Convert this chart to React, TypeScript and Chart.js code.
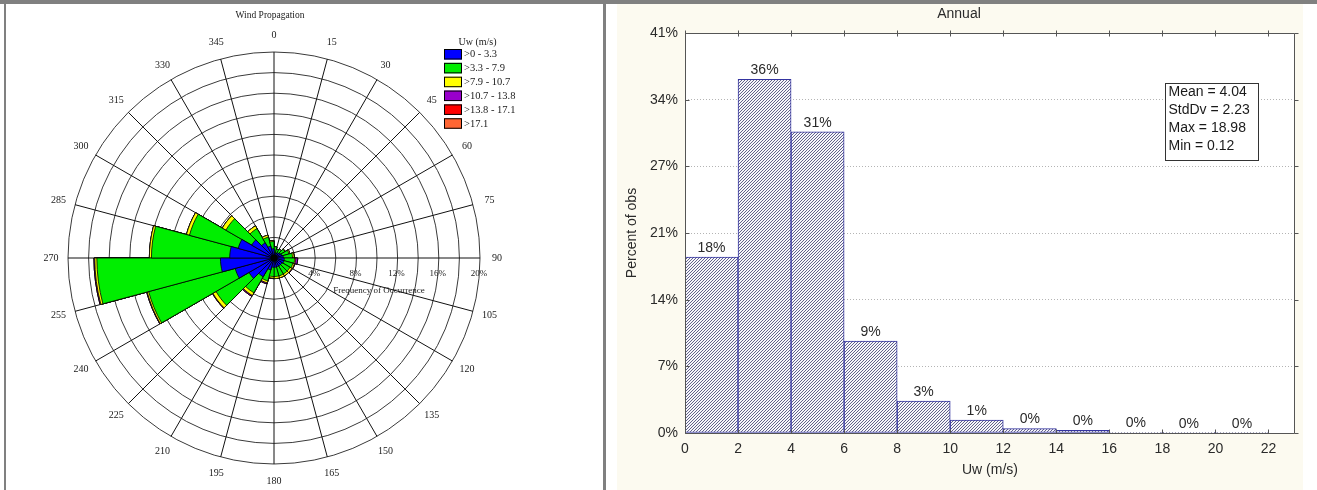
import React, { useEffect, useRef } from "react";
import { Chart, registerables } from "chart.js";

Chart.register(...registerables);

const SERIF = '"Liberation Serif", "Times New Roman", serif';
const SANS = '"Liberation Sans", Arial, sans-serif';

// ---------- Wind rose ----------
// Compass sectors: sector i covers [15i, 15i + 15) degrees
const DIRECTIONS = [
  "0", "15", "30", "45", "60", "75", "90", "105", "120", "135", "150", "165",
  "180", "195", "210", "225", "240", "255", "270", "285", "300", "315", "330", "345",
];

const SPEED_CLASSES = [">0 - 3.3", ">3.3 - 7.9", ">7.9 - 10.7", ">10.7 - 13.8", ">13.8 - 17.1", ">17.1"];
const CLASS_COLORS = ["#0000ff", "#00ee00", "#ffff00", "#9900cc", "#ff0000", "#ff6633"];

// Frequency of occurrence (%) per sector for each wind speed class
const FREQ_0_3_3 = [0.5, 0.5, 0.6, 0.7, 0.8, 0.9, 1.0, 1.0, 0.9, 0.9, 0.9, 0.9, 0.9, 1.2, 2.1, 2.8, 3.9, 5.2, 4.3, 3.6, 2.5, 1.7, 1.2, 0.9];
const FREQ_3_3_7_9 = [0.6, 0.4, 0.4, 0.5, 0.7, 0.9, 1.0, 0.9, 0.9, 0.9, 0.9, 0.9, 0.9, 1.1, 1.8, 3.7, 8.7, 12.0, 7.6, 4.9, 2.9, 1.6, 0.9, 0.7];
const FREQ_7_9_10_7 = [0, 0, 0, 0.05, 0.1, 0.15, 0.1, 0.15, 0.2, 0.2, 0.2, 0.2, 0.15, 0.2, 0.3, 0.35, 0.15, 0.2, 0.2, 0.3, 0.4, 0.3, 0.2, 0.1];
const FREQ_10_7_13_8 = [0, 0, 0, 0, 0, 0, 0.2, 0.05, 0.05, 0, 0, 0, 0.05, 0.1, 0.1, 0.05, 0.05, 0.08, 0, 0, 0, 0, 0, 0];
const FREQ_13_8_17_1 = [0, 0, 0, 0, 0, 0, 0, 0, 0, 0, 0, 0, 0, 0, 0, 0, 0, 0, 0, 0, 0, 0, 0, 0];
const FREQ_ABOVE_17_1 = [0, 0, 0, 0, 0, 0, 0, 0, 0, 0, 0, 0, 0, 0, 0, 0, 0, 0, 0, 0, 0, 0, 0, 0];

const RING_LABELS = [4, 8, 12, 16, 20];

// ---------- Histogram ----------
const SPEED_BINS = [1, 3, 5, 7, 9, 11, 13, 15, 17, 19, 21]; // bin centres, m/s (2 m/s wide)
const PERCENT_OBS = [18.04, 36.25, 30.88, 9.43, 3.28, 1.33, 0.45, 0.28, 0.04, 0.02, 0.01];
const STATS = ["Mean = 4.04", "StdDv = 2.23", "Max = 18.98", "Min = 0.12"];
const Y_MAX = 41;
const Y_STEP = Y_MAX / 6;

function WindRose() {
  const ref = useRef<HTMLCanvasElement>(null);

  useEffect(() => {
    const classes = [FREQ_0_3_3, FREQ_3_3_7_9, FREQ_7_9_10_7, FREQ_10_7_13_8, FREQ_13_8_17_1, FREQ_ABOVE_17_1];
    // stacked rose: each class is drawn as the running total, innermost class on top
    const cumulative = classes.map((_, k) =>
      DIRECTIONS.map((__, i) => {
        let s = 0;
        for (let j = 0; j <= k; j++) s += classes[j][i];
        return Math.round(s * 1000) / 1000;
      })
    );

    const overlay = {
      id: "roseOverlay",
      afterDraw(chart: any) {
        const { ctx } = chart;
        const r = chart.scales.r;
        const cx = r.xCenter;
        const cy = r.yCenter;
        ctx.save();

        ctx.fillStyle = "#000";
        ctx.beginPath();
        ctx.arc(cx, cy, 3.5, 0, Math.PI * 2);
        ctx.fill();

        ctx.fillStyle = "#1a1a1a";
        ctx.textAlign = "center";
        ctx.textBaseline = "middle";
        ctx.font = `10px ${SERIF}`;
        DIRECTIONS.forEach((lab, i) => {
          const p = r.getPointPosition(i, r.drawingArea + 17);
          ctx.fillText(lab, p.x, p.y);
        });

        ctx.font = `9px ${SERIF}`;
        RING_LABELS.forEach((v) => {
          ctx.fillText(v + "%", cx + r.getDistanceFromCenterForValue(v) - 1, cy + 16);
        });
        ctx.fillText("Frequency of Occurrence", cx + r.getDistanceFromCenterForValue(10.2), cy + 33);

        ctx.font = `9.5px ${SERIF}`;
        ctx.fillText("Wind Propagation", cx - 4, 11);

        // speed class key
        const kx = cx + 170;
        const ky = 45;
        ctx.font = `10px ${SERIF}`;
        ctx.fillText("Uw (m/s)", kx + 33.5, ky - 6.5);
        ctx.textAlign = "left";
        ctx.font = `10.5px ${SERIF}`;
        SPEED_CLASSES.forEach((lab, k) => {
          const y = ky + k * 13.85;
          ctx.fillStyle = CLASS_COLORS[k];
          ctx.fillRect(kx, y, 18, 10.5);
          ctx.strokeStyle = "#000";
          ctx.lineWidth = 1;
          ctx.strokeRect(kx + 0.5, y + 0.5, 17, 9.5);
          ctx.fillStyle = "#1a1a1a";
          ctx.fillText(lab, kx + 20, y + 5.5);
        });

        ctx.restore();
      },
    };

    const chart = new Chart(ref.current as HTMLCanvasElement, {
      type: "polarArea",
      data: {
        labels: DIRECTIONS,
        datasets: cumulative.map((data, k) => ({
          label: SPEED_CLASSES[k],
          data,
          backgroundColor: CLASS_COLORS[k],
          borderColor: "#000",
          borderWidth: 0.8,
        })),
      },
      options: {
        responsive: false,
        animation: false,
        layout: { padding: { left: 62, right: 123, top: 48, bottom: 26 } },
        plugins: {
          legend: { display: false },
          tooltip: { enabled: false },
          title: { display: false },
        },
        scales: {
          r: {
            min: 0,
            max: 20,
            ticks: { display: false, stepSize: 2 },
            grid: { circular: true, color: "#3a3a3a", lineWidth: 1 },
            angleLines: { display: true, color: "#111", lineWidth: 1 },
            pointLabels: { display: false },
          },
        },
      } as any,
      plugins: [overlay],
    });

    return () => chart.destroy();
  }, []);

  return <canvas ref={ref} width={597} height={486} style={{ display: "block", width: 597, height: 486 }} />;
}

function Histogram() {
  const ref = useRef<HTMLCanvasElement>(null);

  useEffect(() => {
    const canvas = ref.current as HTMLCanvasElement;
    const c2d = canvas.getContext("2d") as CanvasRenderingContext2D;

    // diagonal hatch fill for the bars
    const tile = document.createElement("canvas");
    tile.width = 3;
    tile.height = 3;
    const t = tile.getContext("2d") as CanvasRenderingContext2D;
    for (let x = 0; x < 3; x++) {
      for (let y = 0; y < 3; y++) {
        t.fillStyle = (x + y) % 3 === 2 ? "#62628a" : "#f6f6fb";
        t.fillRect(x, y, 1, 1);
      }
    }
    const hatch = c2d.createPattern(tile, "repeat");

    const panel = {
      id: "histPanel",
      beforeDraw(chart: any) {
        const { ctx, chartArea: a } = chart;
        ctx.save();
        ctx.fillStyle = "#fcfaf0";
        ctx.fillRect(0, 0, chart.width, chart.height);
        ctx.fillStyle = "#ffffff";
        ctx.fillRect(a.left, a.top, a.right - a.left, a.bottom - a.top);
        ctx.restore();
      },
      afterDatasetsDraw(chart: any) {
        const { ctx } = chart;
        const meta = chart.getDatasetMeta(0);
        ctx.save();
        ctx.fillStyle = "#2a2a2a";
        ctx.font = `14px ${SANS}`;
        ctx.textAlign = "center";
        ctx.textBaseline = "middle";
        meta.data.forEach((el: any, i: number) => {
          ctx.fillText(Math.round(PERCENT_OBS[i]) + "%", el.x, el.y - 9);
        });
        ctx.restore();
      },
      afterDraw(chart: any) {
        const { ctx, chartArea: a } = chart;
        const xs = chart.scales.x;
        const ys = chart.scales.y;
        const L = Math.round(a.left) + 0.5;
        const R = Math.round(a.right) - 0.5;
        const T = Math.round(a.top) + 0.5;
        const B = Math.round(a.bottom) + 0.5;
        ctx.save();
        ctx.setLineDash([]);
        ctx.strokeStyle = "#555";
        ctx.lineWidth = 1;
        ctx.beginPath();
        ctx.rect(L, T, R - L, B - T);
        ys.ticks.forEach((tk: any) => {
          const y = Math.round(ys.getPixelForValue(tk.value)) + 0.5;
          ctx.moveTo(L, y);
          ctx.lineTo(L + 4, y);
          ctx.moveTo(R, y);
          ctx.lineTo(R + 4, y);
        });
        xs.ticks.forEach((tk: any) => {
          const x = Math.round(xs.getPixelForValue(tk.value)) + 0.5;
          ctx.moveTo(x, B);
          ctx.lineTo(x, B - 4);
          ctx.moveTo(x, T - 3);
          ctx.lineTo(x, T + 3);
        });
        ctx.stroke();

        ctx.fillStyle = "#2a2a2a";
        ctx.textAlign = "center";
        ctx.textBaseline = "middle";
        ctx.font = `14px ${SANS}`;
        ctx.fillText("Annual", chart.width / 2 - 1, 10);
        ctx.fillText("Uw (m/s)", (a.left + a.right) / 2, 466);
        ctx.save();
        ctx.translate(15, (a.top + a.bottom) / 2);
        ctx.rotate(-Math.PI / 2);
        ctx.fillText("Percent of obs", 0, 0);
        ctx.restore();

        // summary statistics box
        const bx = a.right - 130;
        const by = a.top + 50;
        ctx.fillStyle = "#ffffff";
        ctx.fillRect(bx, by, 93, 77);
        ctx.strokeStyle = "#333";
        ctx.strokeRect(Math.round(bx) + 0.5, Math.round(by) + 0.5, 93, 77);
        ctx.fillStyle = "#1a1a1a";
        ctx.textAlign = "left";
        STATS.forEach((s, i) => ctx.fillText(s, bx + 3.5, by + 9 + i * 18.2));
        ctx.restore();
      },
    };

    const chart = new Chart(canvas, {
      type: "bar",
      data: {
        datasets: [
          {
            data: SPEED_BINS.map((x, i) => ({ x, y: PERCENT_OBS[i] })),
            backgroundColor: hatch as any,
            borderColor: "#3434a0",
            borderWidth: 1,
            borderSkipped: false,
            barPercentage: 1,
            categoryPercentage: 1,
          },
        ],
      },
      options: {
        responsive: false,
        animation: false,
        layout: { padding: { left: 8, right: 8, top: 29, bottom: 0 } },
        plugins: {
          legend: { display: false },
          tooltip: { enabled: false },
          title: { display: false },
        },
        scales: {
          x: {
            type: "linear",
            min: 0,
            max: 23,
            offset: false,
            grid: { display: false, drawTicks: false, offset: false },
            border: { display: false },
            ticks: {
              stepSize: 2,
              includeBounds: false,
              autoSkip: false,
              maxRotation: 0,
              padding: 8,
              color: "#2a2a2a",
              font: { family: SANS, size: 14 },
            },
            afterFit: (s: any) => {
              s.height = 57;
            },
          },
          y: {
            type: "linear",
            min: 0,
            max: Y_MAX,
            grid: {
              drawTicks: false,
              color: (c: any) =>
                c.tick && c.tick.value > 0.01 && c.tick.value < Y_MAX - 0.01 ? "#b4b4b4" : "rgba(0,0,0,0)",
            },
            border: { display: false, dash: [1, 2] },
            ticks: {
              stepSize: Y_STEP,
              padding: 7,
              color: "#2a2a2a",
              font: { family: SANS, size: 14 },
              callback: (v: any) => Math.round(Number(v)) + "%",
            },
            afterFit: (s: any) => {
              s.width = 60;
            },
          },
        },
      } as any,
      plugins: [panel],
    });

    return () => chart.destroy();
  }, []);

  return <canvas ref={ref} width={686} height={486} style={{ display: "block", width: 686, height: 486 }} />;
}

export default function App() {
  return (
    <div style={{ position: "fixed", left: 0, top: 0, width: 1317, height: 490, background: "#ffffff", overflow: "hidden" }}>
      <div style={{ position: "absolute", left: 0, top: 0, width: 1317, height: 4, background: "#808080" }} />
      <div style={{ position: "absolute", left: 4, top: 0, width: 2, height: 490, background: "#808080" }} />
      <div style={{ position: "absolute", left: 603, top: 0, width: 3, height: 490, background: "#808080" }} />
      <div style={{ position: "absolute", left: 6, top: 4 }}>
        <WindRose />
      </div>
      <div style={{ position: "absolute", left: 617, top: 4 }}>
        <Histogram />
      </div>
    </div>
  );
}
